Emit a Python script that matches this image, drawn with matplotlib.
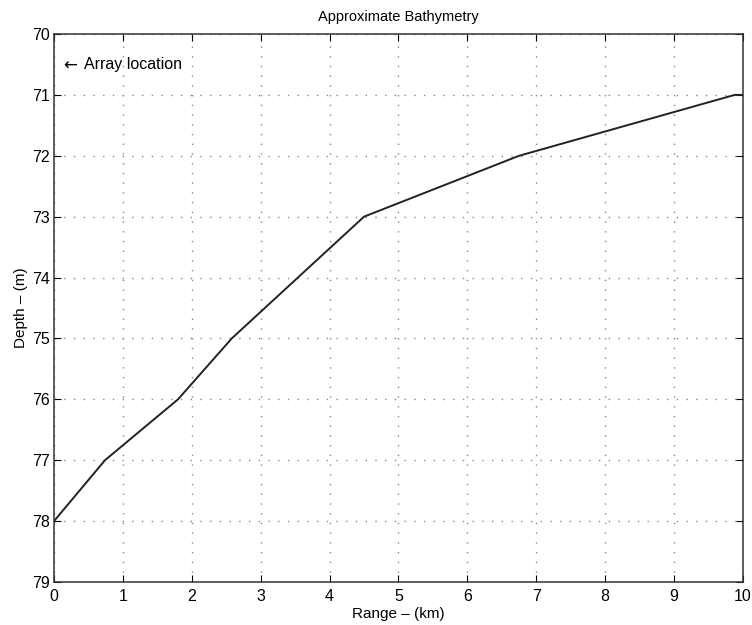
import matplotlib
matplotlib.use("Agg")
import matplotlib.pyplot as plt

# bathymetry profile
range_km = [0, 0.74, 1.8, 2.58, 4.5, 6.75, 9.88, 10]
depth_m = [78, 77, 76, 75, 73, 72, 71, 71]

x_ticks = list(range(0, 11))
y_ticks = list(range(70, 80))

plt.rcParams['font.family'] = ['Liberation Sans', 'DejaVu Sans']
plt.rcParams['font.size'] = 11

fig = plt.figure(figsize=(7.52, 6.25), dpi=100)
ax = fig.add_axes([0.0718, 0.0688, 0.9162, 0.8768])

ax.plot(range_km, depth_m, color='#222222', linewidth=1.4)

ax.set_xlim(0, 10)
ax.set_ylim(79, 70)
ax.set_xticks(x_ticks)
ax.set_yticks(y_ticks)
ax.tick_params(axis='both', direction='in', top=True, right=True,
               length=5, labelsize=11.5)
ax.tick_params(axis='x', pad=5)
ax.tick_params(axis='y', pad=3)
ax.grid(True, linestyle=(0, (1, 6)), color='#888888', linewidth=1.0)

for s in ax.spines.values():
    s.set_linewidth(1.1)
    s.set_color('#333333')

# arrow drawn in DejaVu so it is as large as in the reference
ax.text(0.14, 70.52, '\u2190', fontsize=12, va='center', ha='left',
        family='DejaVu Sans')
ax.text(0.43, 70.5, 'Array location', fontsize=11.5, va='center', ha='left')

ax.set_title('Approximate Bathymetry', fontsize=10.5, pad=9)
ax.set_xlabel('Range \u2013 (km)', fontsize=11, labelpad=2)
ax.set_ylabel('Depth \u2013 (m)', fontsize=11, labelpad=3)

fig.savefig('out.png', dpi=100)
